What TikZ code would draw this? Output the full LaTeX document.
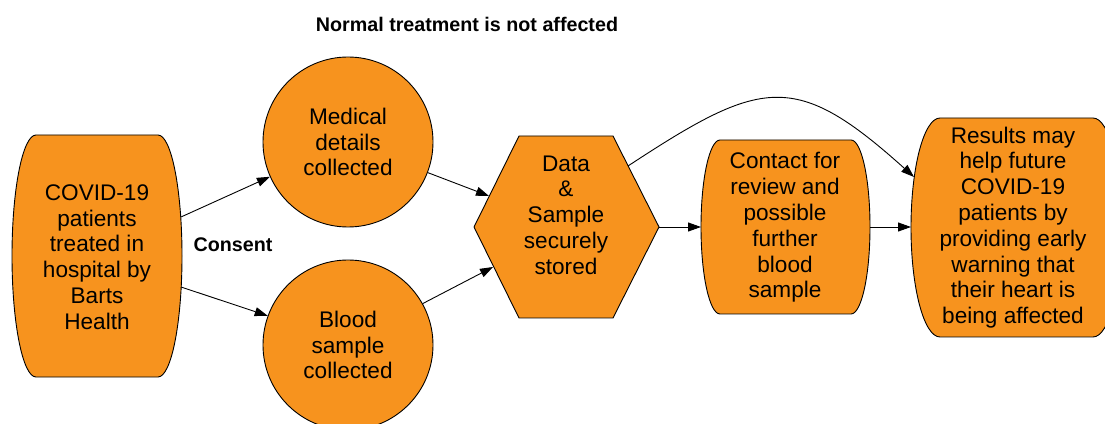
\documentclass[tikz,border=0pt]{standalone}
\usepackage{fontspec}
\setmainfont{Liberation Sans}
\usetikzlibrary{arrows.meta}
\definecolor{boxorange}{RGB}{247,147,30}
\tikzset{
  shapefill/.style={fill=boxorange, draw=black, line width=0.9pt},
  txt/.style={align=center, font=\fontsize{22.6}{25.8}\selectfont, inner sep=0pt},
  lbl/.style={font=\fontsize{19.7}{23}\selectfont\bfseries, inner sep=0pt},
  conn/.style={draw=black, line width=0.9pt, -{Triangle[length=13pt,width=9pt]}},
}
% barrel: cx, cy, half flat width, side x radius, half height
\newcommand{\barrelshape}[5]{%
  \path[shapefill] ({#1-#3},{#2+#5}) -- ({#1+#3},{#2+#5})
    arc[start angle=90,end angle=-90,x radius=#4pt,y radius=#5pt]
    -- ({#1-#3},{#2-#5})
    arc[start angle=270,end angle=90,x radius=#4pt,y radius=#5pt] -- cycle;
}
\begin{document}
\begin{tikzpicture}[x=1pt,y=1pt]
\useasboundingbox (0,0) rectangle (1105,423);
\begin{scope}
\clip (0,0) rectangle (1105,423);
\barrelshape{97}{167}{61}{24}{121}
\barrelshape{785.5}{196}{65.5}{19}{87}
\barrelshape{1016.5}{195.5}{76.5}{29}{109.5}
\path[shapefill] (474,196) -- (519,287) -- (613,287) -- (659,196) -- (613,105) -- (519,105) -- cycle;
\node[circle, shapefill, minimum size=170pt, txt] (medical) at (348,281) {Medical\\details\\collected};
\node[circle, shapefill, minimum size=170pt, txt] (blood) at (348,78) {Blood\\sample\\collected};
\end{scope}

\node[txt] (patients) at (97,166) {COVID-19\\patients\\treated in\\hospital by\\Barts\\Health};
\node[txt] (store) at (566,208) {Data\\\&\\Sample\\securely\\stored};
\node[txt] (contact) at (785,195.5) {Contact for\\review and\\possible\\further\\blood\\sample};
\node[txt] (results) at (1013,195.5) {Results may\\help future\\COVID-19\\patients by\\providing early\\warning that\\their heart is\\being affected};

\node[lbl, anchor=base] (title) at (467,391) {Normal treatment is not affected};
\node[lbl, anchor=base] (consent) at (233,171) {Consent};

\coordinate (L1) at (181,206);
\coordinate (L2) at (181,136);
\coordinate (H1) at (489,227);
\coordinate (H2) at (493,156);
\coordinate (H3) at (659,196);
\coordinate (H4) at (628,257);
\coordinate (K1) at (701,196);
\coordinate (K2) at (870,196);
\coordinate (R1) at (911,196);
\coordinate (R2) at (914,246);

\draw[conn] (L1) -- (medical.204);
\draw[conn] (L2) -- (blood.160);
\draw[conn] (medical.-21.4) -- (H1);
\draw[conn] (blood.29) -- (H2);
\draw[conn] (H3) -- (K1);
\draw[conn] (K2) -- (R1);
\draw[conn] (H4) .. controls (762,345) and (795,353) .. (R2);
\end{tikzpicture}
\end{document}
